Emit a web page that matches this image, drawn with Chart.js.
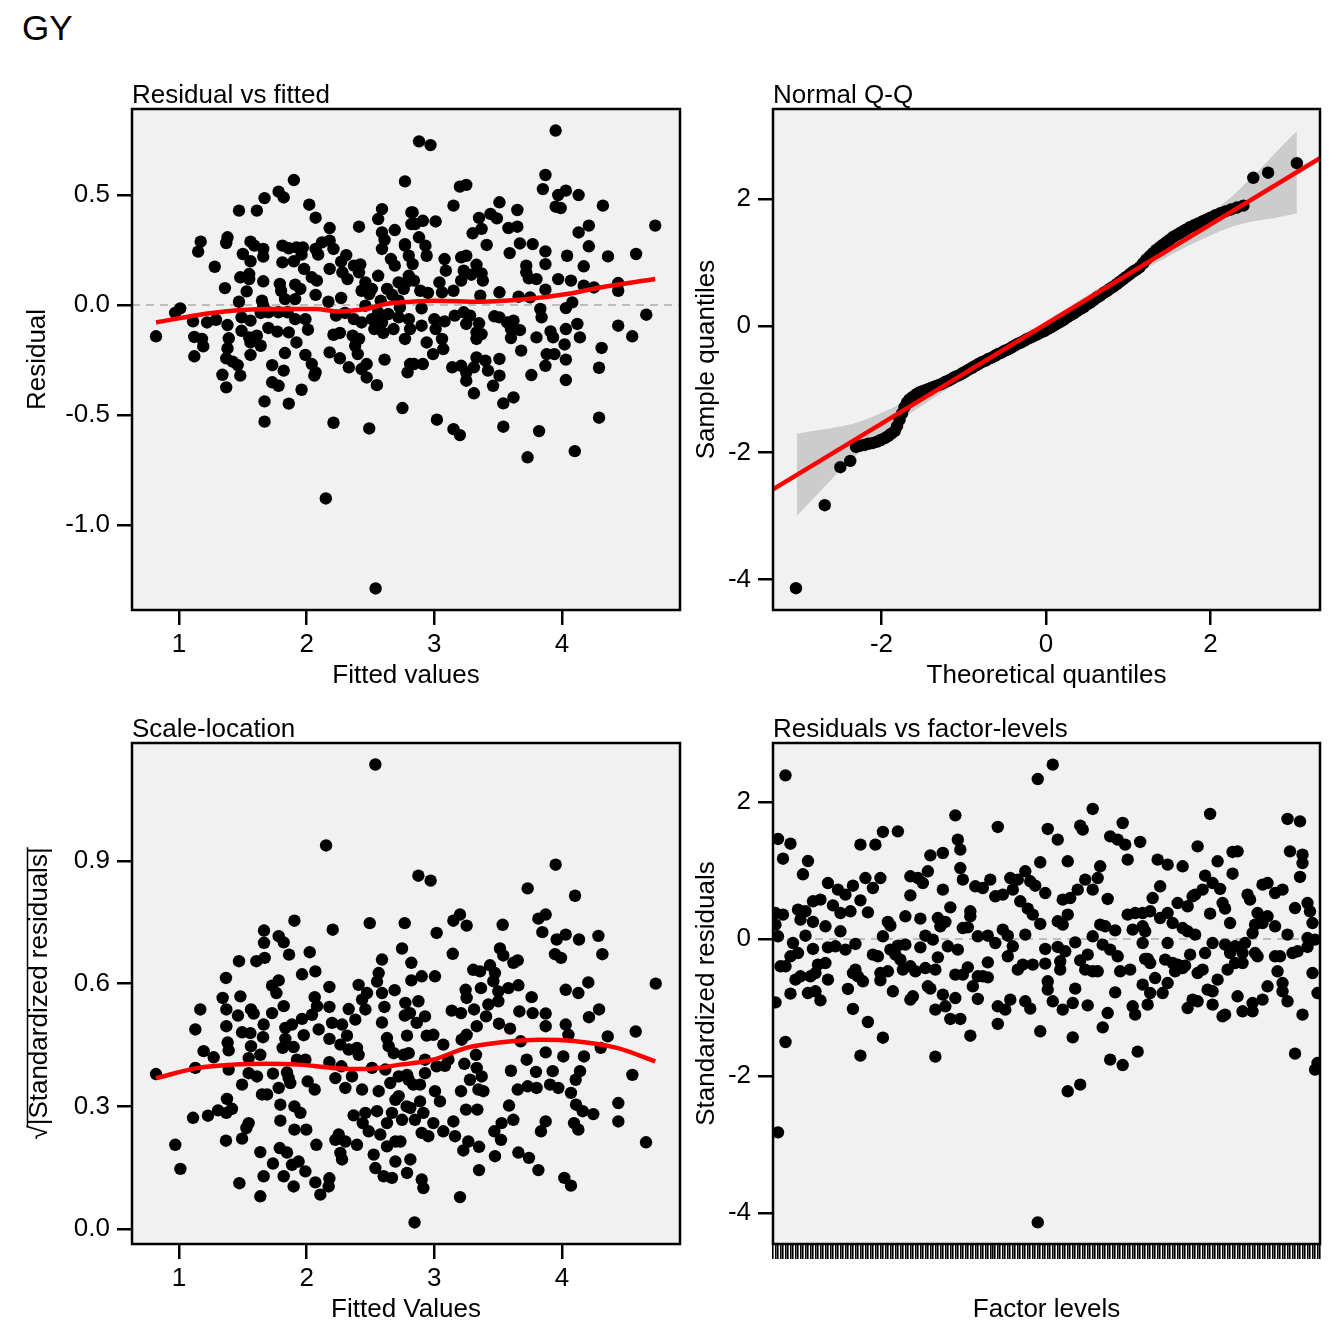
<!DOCTYPE html>
<html>
<head>
<meta charset="utf-8">
<script src="https://cdn.jsdelivr.net/npm/chart.js@4.4.1/dist/chart.umd.min.js"></script>
<style>
html,body{margin:0;padding:0;background:#ffffff;}
#wrap{position:relative;width:1344px;height:1344px;overflow:hidden;background:#fff;font-family:'Liberation Sans',Arial,sans-serif;}
#gy{position:absolute;left:22px;top:10px;font-size:35px;line-height:35px;color:#000;}
.panel{position:absolute;}
canvas{display:block;}
</style>
</head>
<body>
<div id="wrap">
<div id="gy">GY</div>
<div class="panel" id="p1"><canvas id="c1"></canvas></div>
<div class="panel" id="p2"><canvas id="c2"></canvas></div>
<div class="panel" id="p3"><canvas id="c3"></canvas></div>
<div class="panel" id="p4"><canvas id="c4"></canvas></div>
</div>
<script>
// ---------------- DATA ----------------
const panelTitles = ["Residual vs fitted", "Normal Q-Q", "Scale-location", "Residuals vs factor-levels"];

// Panel 1: fitted value, residual
const residualVsFitted = [
[1.90,0.568],[2.77,0.562],[1.78,0.515],[1.82,0.489],[1.67,0.486],[1.47,0.429],[1.61,0.429],[2.02,0.456],[2.07,0.397],[2.59,0.436],[2.56,0.391],[2.82,0.421],[2.18,0.350],[2.41,0.356],[2.69,0.341],[2.59,0.330],[2.61,0.296],[2.82,0.368],
[1.17,0.288],[1.15,0.243],[1.38,0.308],[1.37,0.282],[1.56,0.288],[1.59,0.270],[1.66,0.255],[1.66,0.220],[1.50,0.232],[1.56,0.199],[1.81,0.270],[1.86,0.258],[1.92,0.262],[1.97,0.262],[1.81,0.194],[1.90,0.199],[1.96,0.229],[2.07,0.255],[2.12,0.285],[2.18,0.293],[2.21,0.255],[2.09,0.229],[1.28,0.174],[2.31,0.227],[2.27,0.197],[2.37,0.179],[2.42,0.185],[1.98,0.164],[2.18,0.164],[2.59,0.255],[2.66,0.209],[2.69,0.179],[2.77,0.270],[2.80,0.224],
[1.48,0.126],[1.55,0.141],[1.55,0.118],[1.66,0.108],[1.36,0.077],[1.79,0.096],[1.80,0.065],[1.91,0.093],[1.95,0.073],[2.04,0.126],[2.08,0.111],[2.28,0.149],[2.32,0.118],[2.41,0.149],[2.46,0.103],[2.56,0.133],[2.51,0.073],[1.53,0.062],[2.07,0.046],[2.27,0.032],[2.43,0.065],[2.49,0.050],[2.63,0.073],[2.72,0.103],[2.76,0.073],[2.80,0.133],
[1.47,0.015],[1.65,0.020],[1.66,-0.003],[1.83,0.027],[1.91,0.027],[2.17,0.015],[1.01,-0.015],[0.97,-0.036],[1.11,-0.074],[1.22,-0.079],[1.29,-0.067],[1.38,-0.091],[1.49,-0.056],[1.56,-0.071],[1.64,-0.036],[1.70,-0.033],[1.78,-0.033],[1.85,-0.033],[1.91,-0.064],[1.99,-0.064],[2.23,-0.048],[2.30,-0.036],[2.37,-0.064],[2.43,-0.079],[2.51,-0.064],[2.59,-0.079],[2.64,-0.041],[2.72,-0.056],[2.80,-0.064],
[0.82,-0.142],[1.12,-0.145],[1.18,-0.154],[1.19,-0.188],[1.39,-0.151],[1.38,-0.197],[1.49,-0.117],[1.55,-0.147],[1.61,-0.139],[1.64,-0.185],[1.56,-0.170],[1.70,-0.104],[1.77,-0.121],[1.86,-0.124],[1.92,-0.170],[2.01,-0.112],[2.21,-0.135],[2.26,-0.127],[2.36,-0.139],[2.41,-0.154],[2.53,-0.109],[2.60,-0.127],[2.68,-0.109],[2.77,-0.154],
[1.12,-0.233],[1.37,-0.242],[1.42,-0.257],[1.46,-0.273],[1.56,-0.227],[1.83,-0.218],[1.99,-0.227],[2.04,-0.268],[2.07,-0.306],[2.06,-0.321],[2.18,-0.215],[2.26,-0.242],[2.33,-0.283],[2.38,-0.185],[2.40,-0.223],[2.43,-0.291],[2.47,-0.329],[2.47,-0.268],[2.61,-0.248],[2.79,-0.306],[2.81,-0.268],[1.34,-0.317],[1.48,-0.321],[1.37,-0.374],[1.73,-0.273],[1.82,-0.298],[1.73,-0.351],[1.78,-0.367],[1.96,-0.385],[2.55,-0.364],[1.67,-0.438],[1.86,-0.448],[2.75,-0.468],[1.67,-0.530],[2.21,-0.535],[2.49,-0.561],[2.15,-0.879],[2.54,-1.288],
[2.46,-0.003],[2.58,0.020],[2.67,0.046],[2.72,0.020],[2.56,-0.033],
[3.95,0.793],[2.88,0.744],[2.97,0.727],[3.87,0.591],[3.20,0.538],[3.25,0.546],[3.85,0.527],[3.97,0.500],[4.03,0.520],[4.13,0.500],[3.95,0.447],[3.99,0.441],[4.32,0.452],[3.15,0.452],[3.51,0.467],[2.83,0.421],[2.85,0.368],[2.91,0.383],[3.01,0.380],[3.35,0.396],[3.44,0.414],[3.49,0.394],[3.37,0.346],[3.30,0.326],[3.65,0.432],[3.58,0.350],[3.65,0.356],[4.13,0.330],[4.21,0.361],[4.73,0.361],
[2.88,0.308],[2.77,0.277],[2.93,0.270],[2.94,0.224],[2.83,0.186],[3.41,0.273],[3.67,0.280],[3.77,0.277],[3.59,0.236],[3.87,0.244],[3.87,0.186],[4.04,0.224],[4.21,0.267],[4.17,0.176],[4.36,0.221],[4.58,0.232],[3.08,0.209],[3.09,0.156],[3.21,0.217],[3.25,0.224],[3.33,0.183],[3.23,0.156],[3.29,0.138],[3.37,0.144],[3.38,0.111],[3.21,0.111],[3.72,0.179],[3.72,0.149],[3.74,0.121],[3.80,0.118],[3.97,0.118],[4.07,0.111],[4.17,0.088],[4.25,0.080],[4.44,0.100],[4.44,0.065],
[2.78,0.103],[2.84,0.111],[2.89,0.065],[2.95,0.055],[3.04,0.103],[3.06,0.058],[3.15,0.065],[3.51,0.058],[3.36,0.043],[3.66,0.038],[3.75,0.035],[3.87,0.070],[4.03,-0.014],[4.08,0.012],[3.83,-0.018],[3.84,-0.056],[4.66,-0.044],[2.73,-0.011],[2.90,-0.015],[3.00,-0.064],[3.08,-0.074],[3.16,-0.048],[3.23,-0.033],[3.28,-0.048],[3.25,-0.086],[3.35,-0.083],[3.33,-0.124],[3.37,-0.132],[3.33,-0.154],[3.47,-0.051],[3.51,-0.056],[3.57,-0.079],[3.62,-0.071],[3.60,-0.109],[3.67,-0.114],[3.60,-0.150],[3.91,-0.120],[3.93,-0.147],[4.03,-0.109],[4.12,-0.086],[4.14,-0.147],[3.80,-0.147],[4.02,-0.179],[4.44,-0.094],[4.55,-0.142],[4.31,-0.195],
[2.81,-0.109],[2.90,-0.094],[2.94,-0.170],[3.01,-0.109],[3.06,-0.154],[3.07,-0.200],[2.99,-0.223],[2.84,-0.268],[2.91,-0.268],[3.14,-0.283],[3.21,-0.276],[3.25,-0.306],[3.25,-0.344],[3.31,-0.283],[3.33,-0.238],[3.40,-0.253],[3.42,-0.298],[3.51,-0.245],[3.51,-0.321],[3.46,-0.367],[3.31,-0.401],[3.68,-0.207],[3.76,-0.318],[3.88,-0.223],[3.94,-0.223],[3.87,-0.276],[4.03,-0.248],[4.03,-0.341],[4.29,-0.285],[3.54,-0.447],[3.62,-0.420],[3.02,-0.521],[3.15,-0.564],[3.20,-0.591],[3.54,-0.553],[3.82,-0.573],[4.29,-0.512],[3.73,-0.692],[4.10,-0.664]
];
const residualSmooth = [[0.82,-0.079],[1.15,-0.045],[1.42,-0.026],[1.68,-0.018],[2.07,-0.018],[2.25,-0.029],[2.46,-0.018],[2.62,0.005],[2.82,0.015],[3.00,0.020],[3.36,0.015],[3.72,0.027],[4.04,0.050],[4.30,0.080],[4.73,0.118]];

// Panel 2: theoretical quantile, sample quantile
const qqPoints = [
[-3.04,-4.14],[-2.69,-2.83],[-2.50,-2.23],[-2.38,-2.13],[-2.31,-1.91],[-2.26,-1.89],[-2.21,-1.88],[-2.16,-1.86],[-2.11,-1.85],[-2.06,-1.83],[-2.01,-1.80],[-1.96,-1.77],[-1.92,-1.74],[-1.88,-1.70],[-1.84,-1.66],[-1.81,-1.58],[-1.78,-1.48],[-1.75,-1.38],[-1.72,-1.28],[-1.69,-1.21],[-1.66,-1.16],[-1.62,-1.12],[-1.58,-1.08],[-1.54,-1.05],[-1.50,-1.03],[-1.46,-1.01],[-1.42,-0.99],[-1.38,-0.97],[-1.34,-0.95],[-1.30,-0.93],[-1.26,-0.91],[-1.22,-0.88],[-1.18,-0.86],[-1.14,-0.83],[-1.10,-0.80],[-1.06,-0.78],[-1.02,-0.75],[-0.98,-0.72],[-0.94,-0.69],[-0.90,-0.66],[-0.86,-0.63],[-0.82,-0.60],[-0.78,-0.57],[-0.74,-0.55],[-0.70,-0.52],[-0.66,-0.50],[-0.62,-0.47],[-0.58,-0.44],[-0.54,-0.42],[-0.50,-0.39],[-0.46,-0.37],[-0.42,-0.34],[-0.38,-0.31],[-0.34,-0.28],[-0.30,-0.26],[-0.26,-0.23],[-0.22,-0.20],[-0.18,-0.18],[-0.14,-0.15],[-0.10,-0.13],[-0.06,-0.10],[-0.02,-0.08],
[0.02,-0.05],[0.06,-0.02],[0.10,0.01],[0.14,0.04],[0.18,0.07],[0.22,0.10],[0.26,0.14],[0.30,0.17],[0.34,0.20],[0.38,0.24],[0.42,0.27],[0.46,0.30],[0.50,0.34],[0.54,0.37],[0.58,0.41],[0.62,0.45],[0.66,0.48],[0.70,0.52],[0.74,0.55],[0.78,0.59],[0.82,0.62],[0.86,0.66],[0.90,0.70],[0.94,0.74],[0.98,0.78],[1.02,0.82],[1.06,0.86],[1.10,0.89],[1.14,0.93],[1.18,0.99],[1.22,1.05],[1.26,1.10],[1.30,1.15],[1.34,1.20],[1.38,1.24],[1.42,1.28],[1.46,1.32],[1.50,1.36],[1.54,1.40],[1.58,1.43],[1.62,1.46],[1.66,1.49],[1.70,1.52],[1.75,1.56],[1.80,1.59],[1.85,1.62],[1.90,1.65],[1.95,1.68],[2.00,1.71],[2.06,1.75],[2.12,1.78],[2.18,1.81],[2.25,1.84],[2.32,1.87],[2.40,1.90],[2.52,2.34],[2.70,2.42],[3.05,2.57]
];
const qqLine = [[-3.32,-2.58],[3.33,2.65]];
const qqBandX     = [-3.03,-2.8,-2.6,-2.4,-2.2,-2.0,-1.8,-1.5,-1.0,-0.5,0.0,0.5,1.0,1.5,1.8,2.0,2.2,2.4,2.6,2.8,3.05];
const qqBandLower = [-3.00,-2.69,-2.41,-2.16,-1.92,-1.71,-1.51,-1.25,-0.83,-0.42,-0.02,0.36,0.75,1.11,1.31,1.43,1.54,1.62,1.67,1.71,1.78];
const qqBandUpper = [-1.70,-1.65,-1.61,-1.56,-1.48,-1.37,-1.25,-1.05,-0.69,-0.30,0.08,0.48,0.89,1.31,1.57,1.77,1.98,2.22,2.47,2.75,3.08];

// Panel 3: fitted value, sqrt(|standardized residual|)
const scaleLocation = [
[2.538,1.136],[2.152,0.938],[1.904,0.754],[2.204,0.732],[2.494,0.748],[2.768,0.748],[1.666,0.730],[1.666,0.700],[1.781,0.716],[1.820,0.701],[1.862,0.671],[2.024,0.677],[2.747,0.686],[1.470,0.655],[1.606,0.655],[1.671,0.663],[2.068,0.630],[1.964,0.623],[2.590,0.659],[2.564,0.626],[2.551,0.605],[2.820,0.651],[2.820,0.608],[1.368,0.614],[1.729,0.595],[1.781,0.608],[1.763,0.577],[2.178,0.592],[2.407,0.597],[2.473,0.577],[2.590,0.577],[2.689,0.584],[1.342,0.565],[1.481,0.569],[1.167,0.537],[1.371,0.537],[1.564,0.537],[1.585,0.527],[1.462,0.522],[1.820,0.545],[1.729,0.528],[1.663,0.500],[2.063,0.567],[2.081,0.545],[2.178,0.543],[1.964,0.514],[2.042,0.524],[2.329,0.538],[2.434,0.561],[2.460,0.537],[2.381,0.512],[2.609,0.543],[2.590,0.505],[2.773,0.553],[2.768,0.522],
[1.128,0.488],[1.371,0.496],[1.494,0.481],[1.559,0.479],[1.658,0.469],[1.833,0.492],[1.885,0.500],[1.977,0.474],[2.094,0.488],[2.199,0.504],[2.277,0.500],[2.178,0.465],[2.316,0.473],[2.786,0.473],[1.381,0.456],[1.389,0.437],[1.193,0.435],[1.272,0.420],[1.564,0.447],[1.637,0.426],[1.833,0.465],[1.812,0.443],[1.898,0.445],[2.264,0.451],[2.329,0.439],[2.394,0.443],[2.407,0.426],[2.629,0.467],[2.642,0.447],[2.682,0.430],[2.799,0.430],
[1.128,0.394],[1.389,0.390],[1.546,0.418],[1.546,0.381],[1.611,0.373],[1.494,0.353],[1.736,0.380],[1.846,0.383],[1.924,0.414],[1.990,0.414],[2.178,0.408],[2.272,0.398],[2.512,0.394],[2.616,0.390],[2.721,0.373],[2.786,0.377],[2.760,0.426],[2.008,0.361],[2.063,0.341],[1.872,0.357],[1.781,0.345],[1.690,0.329],[1.650,0.329],[1.859,0.369],[2.225,0.369],[2.303,0.345],[2.355,0.373],[2.434,0.341],[2.564,0.337],[2.655,0.357],[2.721,0.325],[2.799,0.365],
[1.376,0.318],[1.415,0.294],[1.306,0.290],[1.227,0.277],[1.110,0.272],[1.371,0.284],[1.794,0.304],[1.904,0.300],[1.951,0.284],[1.794,0.265],[2.368,0.278],[2.460,0.284],[2.551,0.288],[2.668,0.284],[2.747,0.267],[2.812,0.296],[2.695,0.316],[1.546,0.259],[1.528,0.247],[1.904,0.243],[1.997,0.243],[2.439,0.259],[2.486,0.239],[2.629,0.259],
[0.971,0.206],[1.368,0.216],[1.494,0.221],[1.637,0.188],[1.789,0.198],[1.846,0.187],[2.076,0.206],[2.251,0.231],[2.303,0.214],[2.225,0.218],[2.394,0.206],[2.525,0.182],[2.577,0.231],[2.629,0.202],[2.695,0.214],[2.734,0.214],[2.812,0.170],[1.011,0.147],[1.663,0.129],[1.736,0.160],[1.820,0.129],[1.885,0.157],[1.937,0.165],[1.990,0.141],[1.898,0.104],[2.068,0.114],[2.178,0.124],[2.172,0.104],[2.107,0.084],[1.637,0.080],[1.473,0.112],[2.277,0.170],[2.264,0.186],[2.538,0.149],[2.603,0.129],[2.668,0.125],[2.695,0.165],[2.786,0.137],[2.845,0.016],[0.820,0.379],
[3.950,0.891],[2.875,0.864],[2.971,0.852],[3.731,0.833],[4.102,0.815],[3.018,0.724],[3.149,0.754],[3.201,0.769],[3.253,0.742],[3.535,0.744],[3.815,0.759],[3.872,0.769],[3.846,0.726],[3.144,0.673],[3.514,0.686],[3.540,0.669],[3.619,0.651],[3.653,0.657],[3.958,0.708],[4.029,0.720],[4.133,0.708],[4.285,0.717],[4.316,0.672],[3.945,0.672],[3.992,0.663],[2.901,0.618],[3.005,0.618],[3.305,0.634],[3.358,0.630],[3.436,0.645],[3.475,0.626],[3.462,0.606],[3.245,0.585],[3.365,0.589],[3.253,0.565],[3.580,0.589],[3.658,0.596],[3.501,0.581],[3.501,0.557],[3.423,0.549],[3.405,0.520],[3.332,0.496],[3.506,0.502],[3.593,0.490],
[4.029,0.585],[4.128,0.577],[4.206,0.603],[3.762,0.567],[3.666,0.532],[3.770,0.528],[3.872,0.527],[3.872,0.496],[4.029,0.500],[4.050,0.475],[4.211,0.518],[4.290,0.537],[4.358,0.471],[4.577,0.483],[4.303,0.443],[2.875,0.557],[2.809,0.528],[2.927,0.520],[2.862,0.504],[2.940,0.473],[2.992,0.475],[3.136,0.534],[3.209,0.528],[3.311,0.537],[3.070,0.451],[3.214,0.463],[3.253,0.475],[2.927,0.414],[3.326,0.426],[3.235,0.404],[3.083,0.399],[3.110,0.414],[3.676,0.459],[3.723,0.414],[3.872,0.432],[4.010,0.422],[4.172,0.422],
[2.835,0.353],[2.888,0.353],[2.927,0.381],[3.018,0.398],[3.332,0.394],[3.371,0.373],[3.279,0.365],[3.345,0.341],[3.384,0.337],[3.209,0.337],[3.600,0.387],[3.796,0.384],[3.927,0.386],[4.141,0.386],[4.107,0.365],[4.551,0.377],[3.653,0.341],[3.731,0.349],[3.801,0.345],[3.906,0.353],[3.971,0.345],[4.070,0.333],[3.005,0.337],[3.044,0.312],[2.888,0.312],[2.783,0.300],[2.914,0.284],[2.848,0.267],[3.248,0.292],[3.337,0.292],[3.585,0.302],[3.619,0.267],[3.527,0.259],[3.470,0.239],[3.522,0.218],
[4.110,0.304],[4.162,0.288],[4.245,0.281],[4.441,0.308],[4.441,0.263],[3.872,0.263],[3.835,0.239],[4.094,0.259],[4.128,0.243],[2.992,0.259],[3.070,0.239],[3.149,0.263],[2.901,0.235],[2.953,0.227],[3.162,0.227],[3.266,0.214],[3.227,0.192],[3.350,0.201],[2.901,0.121],[2.914,0.100],[3.475,0.178],[3.658,0.187],[3.741,0.174],[3.815,0.144],[3.350,0.144],[4.018,0.125],[4.070,0.106],[4.658,0.212],[3.201,0.078],[4.734,0.600]
];
const scaleSmooth = [[0.82,0.369],[1.15,0.394],[1.42,0.402],[1.68,0.404],[1.94,0.402],[2.20,0.394],[2.46,0.391],[2.73,0.402],[2.99,0.414],[3.25,0.443],[3.51,0.456],[3.83,0.463],[4.09,0.460],[4.43,0.443],[4.73,0.410]];

// Panel 4: factor level index, standardized residual
const levelCount = 220;
const residualsByLevel = [
[6,2.389],[3,1.460],[8,1.391],[5,1.172],[15,1.138],[13,0.944],[36,1.377],[42,1.377],[45,1.562],[51,1.571],[74,1.805],[75,1.450],[76,1.304],[64,1.221],[69,1.255],[76,1.036],[77,0.866],[63,0.988],[23,0.817],[27,0.720],[30,0.647],[33,0.778],[38,0.890],[41,0.744],[44,0.890],[36,0.564],[56,0.915],[59,0.890],[61,0.817],[56,0.637],[69,0.720],[17,0.550],[20,0.574],[25,0.491],[11,0.428],[14,0.404],[12,0.282],[17,0.248],[5,0.355],[2,0.379],[2,0.209],[22,0.185],[28,0.379],[32,0.404],[39,0.389],[28,0.112],[47,0.248],[48,0.194],[54,0.331],[60,0.297],[67,0.306],[68,0.185],[70,0.248],[72,0.462],[77,0.160],
[3,0.039],[9,-0.059],[14,0.048],[17,-0.146],[23,-0.122],[26,-0.107],[30,-0.156],[34,-0.073],[45,0.039],[48,-0.156],[51,-0.098],[54,-0.083],[60,-0.122],[62,0.048],[65,-0.010],[71,-0.107],[75,-0.156],[11,-0.205],[8,-0.253],[4,-0.399],[6,-0.399],[19,-0.375],[22,-0.351],[41,-0.229],[43,-0.253],[50,-0.229],[52,-0.302],[67,-0.268],[10,-0.594],[12,-0.545],[18,-0.497],[16,-0.545],[23,-0.594],[34,-0.448],[35,-0.545],[37,-0.618],[33,-0.497],[44,-0.497],[47,-0.472],[53,-0.448],[56,-0.399],[58,-0.472],[62,-0.424],[66,-0.448],[74,-0.521],[77,-0.521],
[8,-0.798],[15,-0.789],[18,-0.764],[20,-0.896],[31,-0.730],[44,-0.604],[63,-0.691],[64,-0.725],[49,-0.764],[57,-0.837],[56,-0.886],[69,-0.813],[74,-0.862],[70,-0.983],[2,-0.925],[33,-1.022],[66,-1.032],[72,-1.168],[76,-1.168],[39,-1.212],[45,-1.441],[6,-1.504],[36,-1.703],[66,-1.718],[3,-2.823],
[113,2.545],[107,2.335],[91,1.635],[111,1.606],[115,1.450],[124,1.654],[125,1.596],[129,1.898],[141,1.693],[136,1.498],[139,1.450],[142,1.377],[148,1.416],[143,1.158],[82,0.769],[85,0.744],[88,0.866],[90,0.623],[93,0.647],[96,0.890],[99,0.866],[102,0.988],[104,0.842],[106,0.778],[97,0.720],[108,1.119],[119,1.134],[110,0.671],[117,0.574],[120,0.598],[123,0.720],[126,0.866],[129,0.720],[131,0.890],[132,1.061],[135,0.584],[100,0.550],[103,0.443],[105,0.355],[80,0.404],[80,0.331],[79,0.170],[108,0.219],[115,0.258],[117,0.209],[119,0.355],[132,0.209],[134,0.185],[138,0.126],[143,0.355],[146,0.379],[145,0.136],[149,0.185],
[83,0.039],[87,0.048],[90,-0.059],[93,0.136],[95,0.048],[102,0.063],[97,-0.107],[95,-0.253],[87,-0.341],[110,-0.146],[115,-0.117],[118,-0.180],[122,-0.049],[129,0.039],[133,-0.083],[136,-0.156],[139,-0.253],[127,-0.229],[124,-0.312],[79,-0.414],[83,-0.545],[85,-0.545],[87,-0.560],[81,-0.691],[99,-0.448],[101,-0.375],[105,-0.375],[110,-0.360],[116,-0.326],[116,-0.448],[126,-0.448],[129,-0.472],[131,-0.472],[140,-0.472],[144,-0.448],[150,-0.292],[149,-0.667],
[83,-0.876],[91,-0.983],[94,-1.032],[96,-0.886],[102,-0.910],[104,-1.017],[111,-0.618],[111,-0.740],[113,-0.910],[117,-1.032],[121,-0.935],[122,-0.725],[127,-0.969],[138,-0.779],[135,-1.081],[145,-0.983],[146,-1.105],[80,-1.412],[91,-1.241],[108,-1.348],[121,-1.436],[133,-1.290],[136,-1.762],[141,-1.840],[147,-1.645],[119,-2.224],[124,-2.127],[107,-4.137],
[176,1.825],[207,1.752],[212,1.717],[171,1.352],[185,1.270],[187,1.279],[208,1.279],[213,1.231],[213,1.109],[155,1.158],[159,1.085],[165,1.061],[179,1.134],[185,0.953],[212,0.905],[174,0.924],[177,0.817],[180,0.730],[170,0.647],[173,0.720],[169,0.623],[156,0.769],[153,0.598],[163,0.525],[167,0.477],[159,0.379],[156,0.306],[152,0.404],[149,0.379],[150,0.112],[161,0.233],[165,0.160],[167,0.112],[170,0.063],[176,0.370],[181,0.525],[182,0.443],[184,0.233],[191,0.647],[192,0.574],[197,0.793],[199,0.817],[202,0.671],[205,0.720],[195,0.379],[199,0.331],[202,0.185],[194,0.209],[193,0.087],[197,0.233],[207,0.063],[210,0.452],[215,0.525],[217,0.233],[216,0.404],
[159,-0.059],[149,-0.059],[151,-0.292],[152,-0.351],[158,-0.302],[161,-0.351],[163,-0.375],[166,-0.390],[168,-0.229],[174,-0.205],[177,-0.059],[182,-0.083],[184,-0.205],[186,-0.107],[189,-0.205],[190,-0.059],[194,-0.205],[195,-0.253],[186,-0.351],[183,-0.448],[189,-0.351],[202,-0.253],[204,-0.253],[209,-0.205],[211,-0.180],[215,0.014],[218,-0.010],[215,-0.117],[154,-0.570],[159,-0.643],[162,-0.472],[165,-0.424],[171,-0.497],[173,-0.448],[203,-0.472],[205,-0.643],[199,-0.691],[217,-0.497],[219,-0.789],
[152,-0.789],[151,-0.959],[157,-0.789],[167,-1.008],[169,-0.886],[171,-0.910],[175,-0.740],[177,-0.764],[177,-0.959],[179,-0.594],[181,-1.129],[182,-1.105],[187,-0.837],[189,-1.056],[193,-1.056],[193,-0.935],[197,-0.886],[205,-0.764],[207,-0.910],[213,-1.105],[210,-1.674],[219,-1.811],[218,-1.908]
];

// Tick values / labels
const fittedTicks = [1, 2, 3, 4];
const residualTicks = [-1.0, -0.5, 0.0, 0.5];
const qqXTicks = [-2, 0, 2];
const qqYTicks = [-4, -2, 0, 2];
const scaleLocTicks = [0.0, 0.3, 0.6, 0.9];
const stdResidTicks = [-4, -2, 0, 2];
const factorLevels = Array.from({length: levelCount}, (_, i) => i + 1);

// ---------------- RENDERING ----------------
const FONT = "'Liberation Sans', Arial, Helvetica, sans-serif";
Chart.defaults.font.family = FONT;
Chart.defaults.font.size = 26;
Chart.defaults.color = '#000';

const panelDecor = {
  id: 'panelDecor',
  beforeDraw(chart) {
    const {ctx, chartArea: a} = chart;
    ctx.save();
    ctx.fillStyle = '#f1f1f1';
    ctx.fillRect(a.left, a.top, a.right - a.left, a.bottom - a.top);
    ctx.restore();
  },
  afterDraw(chart) {
    const {ctx, chartArea: a} = chart;
    ctx.save();
    ctx.strokeStyle = '#000';
    ctx.lineWidth = 2.5;
    ctx.strokeRect(a.left, a.top, a.right - a.left, a.bottom - a.top);
    ctx.restore();
  }
};

const sqrtOverline = {
  id: 'sqrtOverline',
  afterDraw(chart) {
    const s = chart.scales.y;
    const ctx = chart.ctx;
    ctx.save();
    ctx.font = '26px ' + FONT;
    const txt = s.options.title.text;
    const w = ctx.measureText(txt).width;
    const wr = ctx.measureText('\u221A').width;
    const cx = s.left + 15.6;
    const cy = (s.top + s.bottom) / 2;
    const xo = cx - 12.5;
    ctx.strokeStyle = '#000';
    ctx.lineWidth = 1.5;
    ctx.beginPath();
    ctx.moveTo(xo, cy + w / 2 - wr + 2);
    ctx.lineTo(xo, cy - w / 2);
    ctx.stroke();
    ctx.restore();
  }
};

const toXY = arr => arr.map(p => ({x: p[0], y: p[1]}));

function pointsDataset(arr) {
  return {type: 'scatter', data: toXY(arr), pointRadius: 6.2, pointHoverRadius: 6.2,
          backgroundColor: '#000', borderWidth: 0, pointBorderWidth: 0, clip: 0, order: 1};
}
function smoothDataset(arr) {
  return {type: 'line', data: toXY(arr), borderColor: '#ff0000', borderWidth: 4.5, pointRadius: 0,
          tension: 0.4, cubicInterpolationMode: 'monotone', fill: false, clip: 0, order: 0};
}
function zeroLine(xmin, xmax) {
  return {type: 'line', data: [{x: xmin, y: 0}, {x: xmax, y: 0}], borderColor: '#bdbdbd', borderWidth: 2,
          borderDash: [8, 6], pointRadius: 0, fill: false, clip: 0, order: 5};
}

function makePanel(canvasId, g, o) {
  const lh = 26 * 1.2;
  const tlh = 26 * 1.05;
  const padLeft = g.yTitleX - g.L - lh / 2;
  const padTop = g.area[1] - g.T - tlh;
  const padRight = g.L + g.W - g.area[2];
  const padBottom = g.T + g.H - lh / 2 - g.xTitleY;
  const yWidth = g.area[0] - g.L - padLeft;
  const xHeight = (g.T + g.H - padBottom) - g.area[3];
  const cv = document.getElementById(canvasId);
  cv.width = g.W; cv.height = g.H;
  cv.style.width = g.W + 'px'; cv.style.height = g.H + 'px';
  const box = cv.parentElement;
  box.style.left = g.L + 'px'; box.style.top = g.T + 'px';
  box.style.width = g.W + 'px'; box.style.height = g.H + 'px';
  const tickW = o.xTickWidth || 2.5;
  return new Chart(cv, {
    type: 'scatter',
    data: {datasets: o.datasets},
    options: {
      responsive: false, animation: false, devicePixelRatio: 1,
      events: [],
      layout: {padding: {left: padLeft, top: padTop, right: padRight, bottom: padBottom}},
      plugins: {
        legend: {display: false},
        tooltip: {enabled: false},
        title: {display: true, text: o.title, align: 'start', fullSize: false,
                padding: {top: 0, bottom: 0}, color: '#000',
                font: {size: 26, weight: 'normal', lineHeight: 1.05, family: FONT}}
      },
      scales: {
        x: {
          type: 'linear', min: o.xMin, max: o.xMax,
          afterFit: s => { s.height = xHeight; },
          afterBuildTicks: s => { s.ticks = o.xTicks.map(v => ({value: v})); },
          ticks: {autoSkip: false, maxRotation: 0, minRotation: 0, padding: 4, color: '#000',
                  font: {size: 26, family: FONT}, callback: o.xFmt},
          grid: {display: true, drawOnChartArea: false, drawTicks: true, tickLength: 15,
                 color: '#000', tickColor: '#000', lineWidth: tickW, tickWidth: tickW},
          border: {display: false},
          title: {display: true, text: o.xTitle, padding: 0, color: '#000',
                  font: {size: 26, lineHeight: 1.2, family: FONT}}
        },
        y: {
          type: 'linear', min: o.yMin, max: o.yMax,
          afterFit: s => { s.width = yWidth; },
          afterBuildTicks: s => { s.ticks = o.yTicks.map(v => ({value: v})); },
          ticks: {autoSkip: false, padding: 7, color: '#000',
                  font: {size: 26, family: FONT}, callback: o.yFmt},
          grid: {display: true, drawOnChartArea: false, drawTicks: true, tickLength: 15,
                 color: '#000', tickColor: '#000', lineWidth: 2.5, tickWidth: 2.5},
          border: {display: false},
          title: {display: true, text: o.yTitle, padding: 0, color: '#000',
                  font: {size: 26, lineHeight: 1.2, family: FONT}}
        }
      }
    },
    plugins: o.extraPlugins ? [panelDecor].concat(o.extraPlugins) : [panelDecor]
  });
}

const fmt1 = v => Number(v).toFixed(1);
const fmtInt = v => String(v);

// Panel 1
makePanel('c1', {L: 0, T: 0, W: 690, H: 700, area: [132, 109, 680, 610], yTitleX: 38, xTitleY: 676}, {
  title: panelTitles[0], xTitle: 'Fitted values', yTitle: 'Residual',
  xMin: 0.632, xMax: 4.924, yMin: -1.386, yMax: 0.891,
  xTicks: fittedTicks, yTicks: residualTicks, xFmt: fmtInt, yFmt: fmt1,
  datasets: [zeroLine(0.632, 4.924), pointsDataset(residualVsFitted), smoothDataset(residualSmooth)]
});

// Panel 2
const bandLower = qqBandX.map((x, i) => [x, qqBandLower[i]]);
const bandUpper = qqBandX.map((x, i) => [x, qqBandUpper[i]]);
makePanel('c2', {L: 672, T: 0, W: 672, H: 700, area: [773, 109, 1320, 610], yTitleX: 707, xTitleY: 676}, {
  title: panelTitles[1], xTitle: 'Theoretical quantiles', yTitle: 'Sample quantiles',
  xMin: -3.319, xMax: 3.331, yMin: -4.484, yMax: 3.426,
  xTicks: qqXTicks, yTicks: qqYTicks, xFmt: fmtInt, yFmt: fmtInt,
  datasets: [
    {type: 'line', data: toXY(bandLower), borderWidth: 0, borderColor: 'rgba(0,0,0,0)', pointRadius: 0, tension: 0.4, fill: false, clip: 0, order: 4},
    {type: 'line', data: toXY(bandUpper), borderWidth: 0, borderColor: 'rgba(0,0,0,0)', pointRadius: 0, tension: 0.4, fill: '-1', backgroundColor: '#cccccc', clip: 0, order: 3},
    pointsDataset(qqPoints),
    {type: 'line', data: toXY(qqLine), borderColor: '#ff0000', borderWidth: 4.5, pointRadius: 0, fill: false, clip: 0, order: 0}
  ]
});

// Panel 3
makePanel('c3', {L: 0, T: 672, W: 690, H: 672, area: [132, 743, 680, 1244], yTitleX: 40, xTitleY: 1310}, {
  title: panelTitles[2], xTitle: 'Fitted Values', yTitle: '\u221A|Standardized residuals|',
  xMin: 0.632, xMax: 4.924, yMin: -0.0367, yMax: 1.1886,
  xTicks: fittedTicks, yTicks: scaleLocTicks, xFmt: fmtInt, yFmt: fmt1,
  datasets: [pointsDataset(scaleLocation), smoothDataset(scaleSmooth)],
  extraPlugins: [sqrtOverline]
});

// Panel 4
makePanel('c4', {L: 672, T: 672, W: 672, H: 672, area: [773, 743, 1320, 1244], yTitleX: 707, xTitleY: 1310}, {
  title: panelTitles[3], xTitle: 'Factor levels', yTitle: 'Standardized residuals',
  xMin: 1, xMax: levelCount, yMin: -4.453, yMax: 2.861,
  xTicks: factorLevels, yTicks: stdResidTicks, xFmt: () => '', yFmt: fmtInt, xTickWidth: 1.6,
  datasets: [zeroLine(1, levelCount), pointsDataset(residualsByLevel)]
});
</script>
</body>
</html>
